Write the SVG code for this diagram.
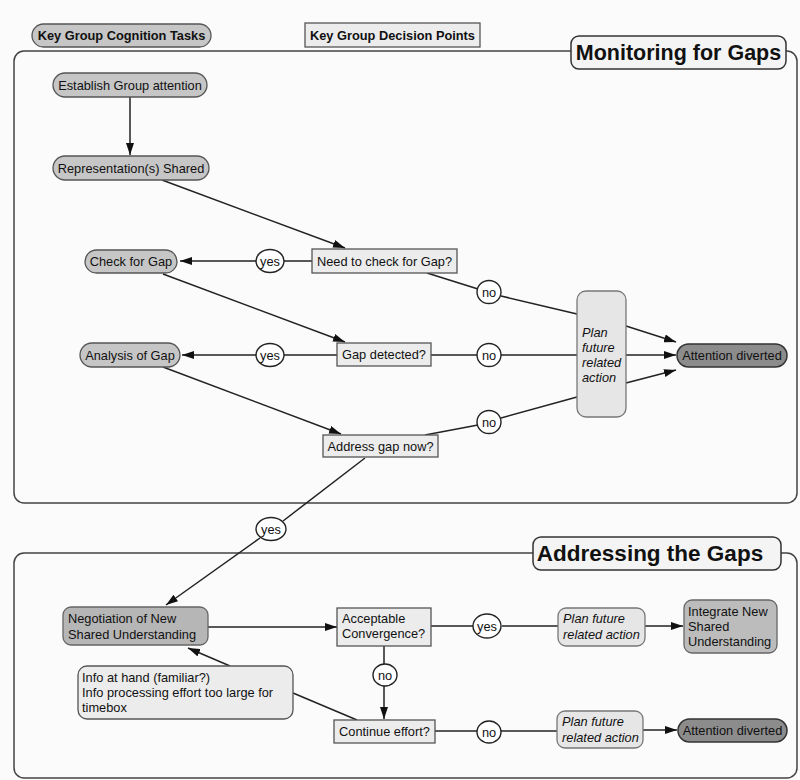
<svg xmlns="http://www.w3.org/2000/svg" width="800" height="780" viewBox="0 0 800 780">
<defs>
<marker id="arr" viewBox="0 0 12 8" refX="12" refY="4" markerWidth="12" markerHeight="8" orient="auto" markerUnits="userSpaceOnUse"><path d="M0,0 L12,4 L0,8 z" fill="#111"/></marker>
<style>
text{font-family:"Liberation Sans",Arial,sans-serif;font-size:12.8px;fill:#111}
.b{font-weight:bold}
.i{font-style:italic}
.title{font-weight:bold;font-size:21.5px}
.title2{font-weight:bold;font-size:22.5px}
.task{fill:#c6c6c6;stroke:#555;stroke-width:1.3}
.dec{fill:#ececec;stroke:#555;stroke-width:1.3}
.plan{fill:#e6e6e6;stroke:#777;stroke-width:1.3}
.div{fill:#8c8c8c;stroke:#333;stroke-width:1.5}
.lbl{fill:#fff;stroke:#222;stroke-width:1.4}
.panel{fill:none;stroke:#444;stroke-width:1.5}
.tab{fill:#f4f4f4;stroke:#333;stroke-width:1.5}
.c line,.c path{stroke:#222;stroke-width:1.5;fill:none}
</style>
</defs>
<rect x="0" y="0" width="800" height="780" fill="#fbfbfb"/>

<g id="legend">
<rect x="32" y="24" width="179" height="23" rx="11.5" class="task"/>
<text x="121.5" y="40" text-anchor="middle" class="b">Key Group Cognition Tasks</text>
<rect x="305" y="23" width="175" height="24" class="dec"/>
<text x="392.5" y="39.5" text-anchor="middle" class="b">Key Group Decision Points</text>
</g>

<g id="panel-monitoring">
<rect x="14" y="51" width="783" height="452" rx="10" class="panel"/>
<rect x="571" y="36" width="215" height="33" rx="8" class="tab"/>
<text x="678.5" y="60" text-anchor="middle" class="title">Monitoring for Gaps</text>
</g>

<g id="panel-addressing">
<rect x="14" y="553" width="783" height="225" rx="10" class="panel"/>
<rect x="533" y="537" width="248" height="33" rx="8" class="tab"/>
<text x="650" y="561" text-anchor="middle" class="title2">Addressing the Gaps</text>
</g>

<g class="c" id="connectors">
<line x1="130" y1="97" x2="130" y2="155" marker-end="url(#arr)"/>
<line x1="162" y1="180" x2="345" y2="248" marker-end="url(#arr)"/>
<line x1="163" y1="274" x2="345" y2="342" marker-end="url(#arr)"/>
<line x1="163" y1="367" x2="341" y2="434" marker-end="url(#arr)"/>
<line x1="312" y1="261" x2="284" y2="261"/>
<line x1="256" y1="261" x2="180" y2="261" marker-end="url(#arr)"/>
<line x1="337" y1="355" x2="284" y2="355"/>
<line x1="256" y1="355" x2="182" y2="355" marker-end="url(#arr)"/>
<line x1="427" y1="273" x2="478" y2="289"/>
<line x1="501" y1="296" x2="577" y2="314"/>
<line x1="626" y1="326" x2="676" y2="342" marker-end="url(#arr)"/>
<line x1="431" y1="355" x2="477" y2="355"/>
<line x1="501" y1="355" x2="577" y2="355"/>
<line x1="626" y1="355" x2="676" y2="355" marker-end="url(#arr)"/>
<line x1="425" y1="435" x2="478" y2="425"/>
<line x1="501" y1="418" x2="577" y2="397"/>
<line x1="626" y1="383" x2="676" y2="370" marker-end="url(#arr)"/>
<line x1="365" y1="458" x2="283" y2="521"/>
<line x1="260" y1="538" x2="166" y2="605" marker-end="url(#arr)"/>
<line x1="208" y1="627" x2="337" y2="627" marker-end="url(#arr)"/>
<line x1="431" y1="626" x2="473" y2="626"/>
<line x1="502" y1="626" x2="558" y2="626"/>
<line x1="645" y1="626" x2="683" y2="626" marker-end="url(#arr)"/>
<line x1="384" y1="646" x2="384" y2="664"/>
<line x1="384" y1="686" x2="384" y2="719" marker-end="url(#arr)"/>
<line x1="435" y1="731" x2="477" y2="731"/>
<line x1="501" y1="731" x2="557" y2="731"/>
<line x1="643" y1="730" x2="677" y2="730" marker-end="url(#arr)"/>
<line x1="357" y1="720" x2="293" y2="693"/>
<line x1="230" y1="666" x2="188" y2="648" marker-end="url(#arr)"/>
</g>

<g id="n-establish"><rect x="53" y="73" width="154" height="24" rx="12" class="task"/><text x="130" y="89.5" text-anchor="middle">Establish Group attention</text></g>
<g id="n-represent"><rect x="53" y="156" width="156" height="24" rx="12" class="task"/><text x="131" y="172.5" text-anchor="middle">Representation(s) Shared</text></g>
<g id="n-check"><rect x="85" y="250" width="92" height="23" rx="11.5" class="task"/><text x="131" y="266" text-anchor="middle">Check for Gap</text></g>
<g id="n-analysis"><rect x="80" y="343" width="100" height="24" rx="12" class="task"/><text x="130" y="359.5" text-anchor="middle">Analysis of Gap</text></g>

<g id="d-need"><rect x="312" y="249" width="145" height="24" class="dec"/><text x="384.5" y="265.5" text-anchor="middle">Need to check for Gap?</text></g>
<g id="d-detected"><rect x="337" y="343" width="94" height="23" class="dec"/><text x="384" y="359" text-anchor="middle">Gap detected?</text></g>
<g id="d-address"><rect x="323" y="435" width="115" height="22" class="dec"/><text x="380.5" y="450.5" text-anchor="middle">Address gap now?</text></g>

<g id="l-yes1"><ellipse cx="270" cy="261" rx="14" ry="11.5" class="lbl"/><text x="270" y="265.5" text-anchor="middle">yes</text></g>
<g id="l-yes2"><ellipse cx="270" cy="355" rx="14" ry="11.5" class="lbl"/><text x="270" y="359.5" text-anchor="middle">yes</text></g>
<g id="l-no1"><ellipse cx="489" cy="292" rx="12" ry="11.5" class="lbl"/><text x="489" y="296.5" text-anchor="middle">no</text></g>
<g id="l-no2"><ellipse cx="489" cy="355" rx="12" ry="11.5" class="lbl"/><text x="489" y="359.5" text-anchor="middle">no</text></g>
<g id="l-no3"><ellipse cx="489" cy="422" rx="12" ry="11.5" class="lbl"/><text x="489" y="426.5" text-anchor="middle">no</text></g>

<g id="n-plan-top"><rect x="577" y="291" width="49" height="126" rx="9" class="plan"/>
<text x="582" y="337" class="i">Plan</text><text x="582" y="352" class="i">future</text><text x="582" y="367" class="i">related</text><text x="582" y="382" class="i">action</text></g>
<g id="n-diverted-top"><rect x="677" y="344" width="110" height="23" rx="11.5" class="div"/><text x="732" y="360" text-anchor="middle">Attention diverted</text></g>

<g id="l-yes3"><ellipse cx="271" cy="529" rx="15" ry="11.5" class="lbl"/><text x="271" y="533.5" text-anchor="middle">yes</text></g>

<g id="n-negotiation"><rect x="63" y="607" width="145" height="38" rx="8" fill="#b6b6b6" stroke="#666" stroke-width="1.3"/>
<text x="68" y="623">Negotiation of New</text><text x="68" y="639">Shared Understanding</text></g>
<g id="d-acceptable"><rect x="337" y="608" width="94" height="38" class="dec"/>
<text x="342" y="623">Acceptable</text><text x="342" y="638">Convergence?</text></g>
<g id="l-yes4"><ellipse cx="487" cy="626" rx="14" ry="12" class="lbl"/><text x="487" y="630.5" text-anchor="middle">yes</text></g>
<g id="n-plan-mid"><rect x="558" y="608" width="87" height="38" rx="8" class="plan"/>
<text x="563" y="623" class="i">Plan future</text><text x="563" y="639" class="i">related action</text></g>
<g id="n-integrate"><rect x="684" y="600" width="93" height="53" rx="8" fill="#bcbcbc" stroke="#666" stroke-width="1.3"/>
<text x="688" y="616">Integrate New</text><text x="688" y="631">Shared</text><text x="688" y="646">Understanding</text></g>
<g id="l-no4"><ellipse cx="385" cy="675" rx="12" ry="11" class="lbl"/><text x="385" y="679.5" text-anchor="middle">no</text></g>
<g id="n-info"><rect x="78" y="666" width="215" height="53" rx="9" fill="#ececec" stroke="#555" stroke-width="1.3"/>
<text x="82" y="682">Info at hand (familiar?)</text><text x="82" y="697">Info processing effort too large for</text><text x="82" y="712">timebox</text></g>
<g id="d-continue"><rect x="334" y="720" width="101" height="23" class="dec"/><text x="384.5" y="736" text-anchor="middle">Continue effort?</text></g>
<g id="l-no5"><ellipse cx="489" cy="732" rx="12" ry="11" class="lbl"/><text x="489" y="736.5" text-anchor="middle">no</text></g>
<g id="n-plan-bot"><rect x="557" y="711" width="86" height="37" rx="8" class="plan"/>
<text x="562" y="726" class="i">Plan future</text><text x="562" y="742" class="i">related action</text></g>
<g id="n-diverted-bot"><rect x="678" y="719" width="109" height="23" rx="11.5" class="div"/><text x="732.5" y="735" text-anchor="middle">Attention diverted</text></g>
</svg>
